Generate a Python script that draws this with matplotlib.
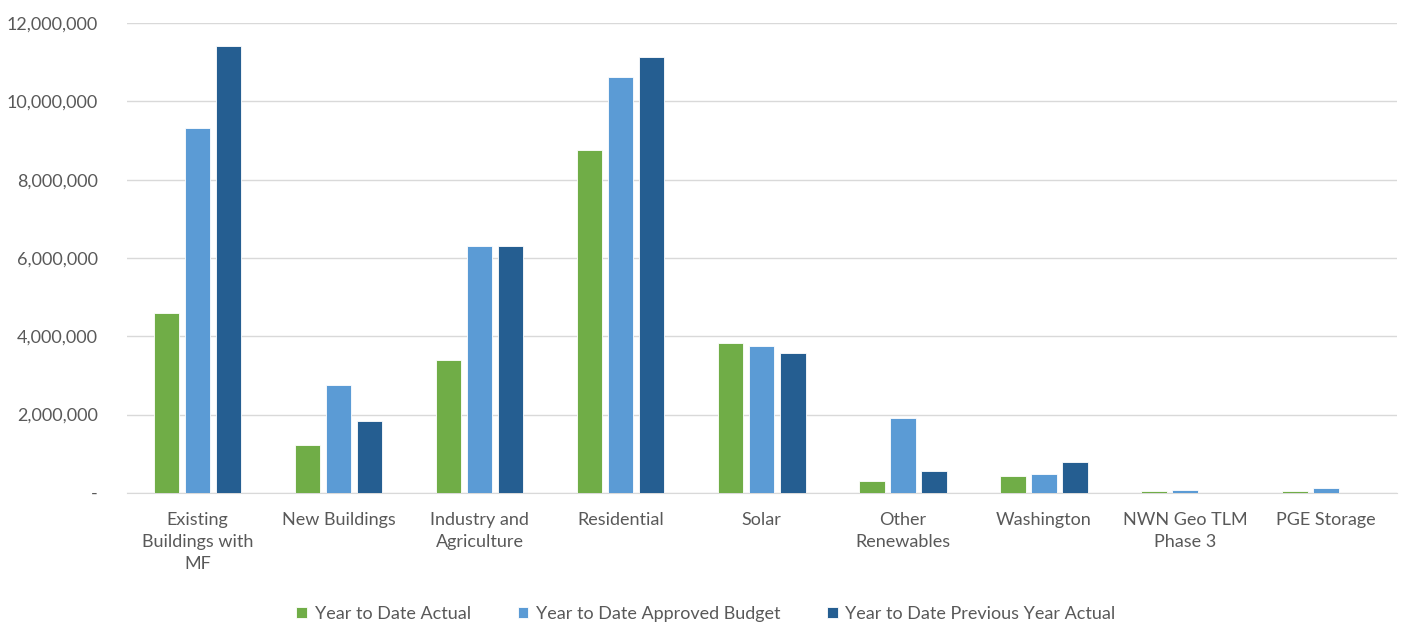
import numpy as np
import matplotlib
matplotlib.use('Agg')
from matplotlib import pyplot as plt
from matplotlib.ticker import FuncFormatter, MultipleLocator

plt.rcParams['font.family'] = ['Lato', 'DejaVu Sans']

categories = ['Existing\nBuildings with\nMF', 'New Buildings', 'Industry and\nAgriculture',
              'Residential', 'Solar', 'Other\nRenewables', 'Washington',
              'NWN Geo TLM\nPhase 3', 'PGE Storage']

ytd_actual = [4600000, 1230000, 3400000, 8760000, 3830000, 310000, 430000, 50000, 50000]
ytd_budget = [9320000, 2760000, 6310000, 10620000, 3750000, 1910000, 490000, 80000, 130000]
ytd_prev_year = [11410000, 1840000, 6310000, 11130000, 3570000, 560000, 790000, 0, 0]

series = [
    ('Year to Date Actual', ytd_actual, '#70AD47'),
    ('Year to Date Approved Budget', ytd_budget, '#5B9BD5'),
    ('Year to Date Previous Year Actual', ytd_prev_year, '#255E91'),
]

text_color = '#595959'

fig = plt.figure(figsize=(14.05, 6.23), dpi=100)
ax = fig.add_axes([0.0904, 0.209, 0.9036, 0.754])

x = np.arange(len(categories))
width = 0.18
step = 0.22
for i, (name, vals, color) in enumerate(series):
    ax.bar(x + (i - 1) * step, vals, width, color=color, label=name,
           edgecolor='white', linewidth=0.6, zorder=3)

ax.set_xlim(-0.5, len(categories) - 0.5)
ax.set_ylim(0, 12000000)
ax.yaxis.set_major_locator(MultipleLocator(2000000))
ax.yaxis.set_major_formatter(FuncFormatter(lambda v, p: '-' if v == 0 else f'{v:,.0f}'))
ax.grid(axis='y', color='#D9D9D9', linewidth=1, zorder=0)
ax.set_axisbelow(True)

for side in ['top', 'right', 'left']:
    ax.spines[side].set_visible(False)
ax.spines['bottom'].set_color('#D9D9D9')

ax.set_xticks(x)
ax.set_xticklabels(categories, fontsize=13, color=text_color, linespacing=1.45)
ax.tick_params(axis='x', length=0, pad=14)
ax.tick_params(axis='y', length=0, labelsize=13, labelcolor=text_color, pad=21)

leg = ax.legend(loc='center', bbox_to_anchor=(0.456, -0.258), ncol=3, frameon=False,
                fontsize=13, handlelength=0.6, handleheight=0.6, handletextpad=0.4,
                columnspacing=2.6)
for t in leg.get_texts():
    t.set_color(text_color)

fig.savefig('out.png', dpi=100)
